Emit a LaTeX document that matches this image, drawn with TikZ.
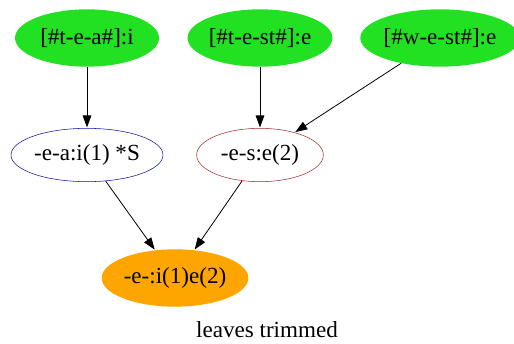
\documentclass[tikz,border=0pt]{standalone}
\usepackage{fontspec}
\setmainfont{Liberation Serif}
\usetikzlibrary{shapes.geometric, arrows.meta}
\definecolor{gvgreen}{HTML}{22E022}
\definecolor{gvorange}{HTML}{FFA500}
\definecolor{gvblue}{HTML}{1010A0}
\definecolor{gvbrown}{HTML}{A52A2A}

\begin{document}
\begin{tikzpicture}[x=0.75pt, y=0.75pt, font=\fontsize{17.3}{20}\selectfont,
    leaf/.style={ellipse, inner sep=0pt, minimum height=43pt},
    edge/.style={-{Triangle[length=9pt, width=6.5pt]}, line width=0.6pt, shorten >=0.5pt}]
        \useasboundingbox (0,0) rectangle (514,343);
        % top row
        \node[leaf, fill=gvgreen, minimum width=108pt] (tea) at (87,305) {[\#t-e-a\#]:i};
        \node[leaf, fill=gvgreen, minimum width=106pt] (test) at (260,305) {[\#t-e-st\#]:e};
        \node[leaf, fill=gvgreen, minimum width=107pt] (west) at (440,305) {[\#w-e-st\#]:e};
        % middle row
        \node[leaf, draw=gvblue, minimum width=114pt, minimum height=40pt] (ea) at (87,188) {-e-a:i(1) *S};
        \node[leaf, draw=gvbrown, minimum width=95pt, minimum height=40pt] (es) at (260,188) {-e-s:e(2)};
        % root
        \node[leaf, fill=gvorange, minimum width=110pt] (root) at (175,65) {-e-:i(1)e(2)};
        \node (caption) at (267,13) {leaves trimmed};
        \foreach \a/\b in {tea/ea, test/es, west/es, ea/root, es/root} {
          \draw[edge] (\a) -- (\b);
        }
      \end{tikzpicture}
\end{document}
